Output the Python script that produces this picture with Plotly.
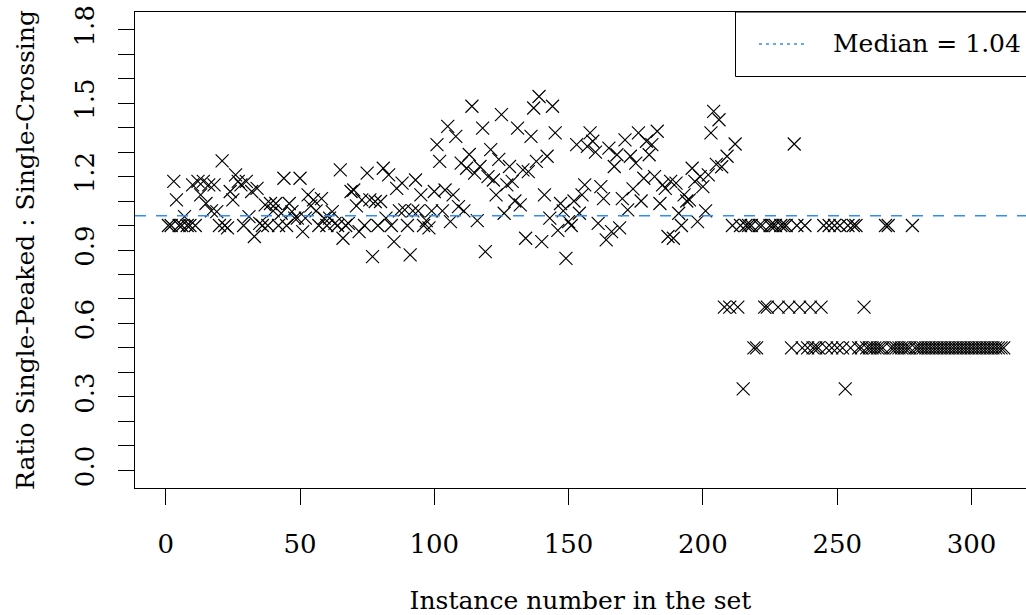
import plotly.graph_objects as go

# ---------------- data ----------------
ratios_001_050 = [1.00, 1.00, 1.18, 1.105, 1.00, 1.00, 1.036, 1.00, 1.00, 1.166,
                  1.00, 1.18, 1.125, 1.18, 1.09, 1.166, 1.06, 1.166, 1.057, 1.00,
                  1.264, 1.00, 0.99, 1.139, 1.105, 1.207, 1.18, 1.166, 1.00, 1.18,
                  1.036, 1.139, 0.955, 1.152, 1.009, 1.00, 1.084, 1.00, 1.09, 1.06,
                  1.09, 1.00, 1.05, 1.193, 1.00, 1.09, 1.057, 1.03, 1.03, 1.193]
ratios_051_100 = [0.975, 1.03, 1.125, 1.08, 1.105, 1.06, 1.00, 1.11, 1.03, 1.00,
                  1.03, 1.057, 1.009, 1.00, 1.227, 0.948, 1.00, 1.009, 1.139, 1.145,
                  1.08, 0.975, 1.105, 1.00, 1.214, 1.105, 0.873, 1.098, 1.00, 1.098,
                  1.234, 1.03, 1.207, 1.00, 0.934, 1.152, 1.06, 1.173, 1.064, 1.00,
                  0.88, 1.06, 1.186, 1.06, 1.125, 1.00, 1.02, 0.99, 1.06, 1.139]
ratios_101_150 = [1.33, 1.262, 1.06, 1.145, 1.405, 1.016, 1.125, 1.364, 1.077, 1.255,
                  1.06, 1.234, 1.29, 1.487, 1.214, 1.02, 1.241, 1.398, 0.893, 1.20,
                  1.31, 1.186, 1.125, 1.27, 1.453, 1.05, 1.166, 1.241, 1.18, 1.10,
                  1.398, 1.084, 1.227, 0.948, 1.22, 1.364, 1.48, 1.262, 1.527, 0.934,
                  1.125, 1.283, 1.03, 1.487, 1.378, 0.98, 1.09, 1.06, 0.866, 1.016]
ratios_151_200 = [1.00, 1.10, 1.33, 1.05, 1.125, 1.166, 1.323, 1.378, 1.344, 1.30,
                  1.009, 1.159, 1.11, 0.941, 1.316, 0.975, 1.241, 1.289, 0.99, 1.11,
                  1.35, 1.064, 1.283, 1.15, 1.255, 1.378, 1.10, 1.193, 1.344, 1.289,
                  1.33, 1.20, 1.385, 1.09, 1.166, 1.152, 0.955, 1.18, 0.948, 1.173,
                  1.05, 1.00, 1.125, 1.10, 1.105, 1.234, 1.18, 1.016, 1.20, 1.159]
ratios_201_250 = [1.06, 1.207, 1.378, 1.466, 1.25, 1.432, 1.24, 0.667, 1.283, 0.667,
                  1.00, 1.333, 0.667, 1.00, 0.333, 1.00, 1.00, 1.00, 0.50, 0.50,
                  1.00, 1.00, 0.667, 0.667, 1.00, 1.00, 1.00, 0.667, 1.00, 1.00,
                  1.00, 0.667, 0.50, 1.333, 1.00, 0.667, 0.50, 1.00, 0.50, 0.667,
                  0.50, 0.50, 0.50, 0.667, 1.00, 0.50, 1.00, 0.50, 1.00, 0.50]
ratios_251_312 = [1.00, 0.50, 0.333, 1.00, 0.50, 1.00, 1.00, 0.50, 0.50, 0.667,
                  0.50, 0.50, 0.50, 0.50, 0.50, 0.50, 0.50, 1.00, 1.00, 0.50,
                  0.50, 0.50, 0.50, 0.50, 0.50, 0.50, 0.50, 1.00, 0.50, 0.50,
                  0.50, 0.50, 0.50, 0.50, 0.50, 0.50, 0.50, 0.50, 0.50, 0.50,
                  0.50, 0.50, 0.50, 0.50, 0.50, 0.50, 0.50, 0.50, 0.50, 0.50,
                  0.50, 0.50, 0.50, 0.50, 0.50, 0.50, 0.50, 0.50, 0.50, 0.50,
                  0.50, 0.50]

ratios = (ratios_001_050 + ratios_051_100 + ratios_101_150 +
          ratios_151_200 + ratios_201_250 + ratios_251_312)
instance_numbers = list(range(1, len(ratios) + 1))

median_value = 1.04
median_label = "Median = 1.04"

x_tick_values = [0, 50, 100, 150, 200, 250, 300]
y_tick_values = [round(0.1 * k, 1) for k in range(19)]
y_tick_labels = ["0.0", "", "", "0.3", "", "", "0.6", "", "", "0.9", "", "",
                 "1.2", "", "", "1.5", "", "", "1.8"]

x_title = "Instance number in the set"
y_title = "Ratio Single-Peaked : Single-Crossing"

# ---------------- figure ----------------
FONT = "DejaVu Serif"
W, H = 1026, 615
ML, MR, MT, MB = 135, 0, 12, 127
MEDIAN_COLOR = "#2f8ff5"

fig = go.Figure()
fig.add_trace(go.Scatter(
    x=instance_numbers, y=ratios, mode="markers",
    marker=dict(symbol="x-thin", size=13, color="black",
                line=dict(color="black", width=1.15)),
    showlegend=False, hoverinfo="x+y"))

# median line (abline)
fig.add_shape(type="line", xref="paper", yref="y", x0=0, x1=1,
              y0=median_value, y1=median_value,
              line=dict(color=MEDIAN_COLOR, width=1.4, dash="11px,10px"))

# legend box (top right, like R legend("topright"))
plot_w = W - ML - MR
plot_h = H - MT - MB
def px_x(p):
    return (p - ML) / plot_w
def px_y(p):
    return (H - MB - p) / plot_h

fig.add_shape(type="rect", xref="paper", yref="paper",
              x0=px_x(735.5), x1=1.05, y0=px_y(76.5), y1=1.0,
              line=dict(color="black", width=1), fillcolor="white", layer="above")
fig.add_shape(type="line", xref="paper", yref="paper",
              x0=px_x(759), x1=px_x(806), y0=px_y(44), y1=px_y(44),
              line=dict(color=MEDIAN_COLOR, width=1.4, dash="3px,4px"), layer="above")
fig.add_annotation(xref="paper", yref="paper", x=px_x(831), y=px_y(44),
                   xanchor="left", yanchor="middle", showarrow=False,
                   text=median_label, font=dict(family=FONT, size=25, color="black"))

fig.update_layout(
    width=W, height=H,
    margin=dict(l=ML, r=MR, t=MT, b=MB, pad=0, autoexpand=False),
    paper_bgcolor="white", plot_bgcolor="white",
    font=dict(family=FONT, color="black"),
    showlegend=False,
    xaxis=dict(range=[-11.44, 320.3], tickmode="array", tickvals=x_tick_values,
               ticks="outside", ticklen=16, tickwidth=1, tickcolor="black",
               showline=True, linecolor="black", linewidth=1, mirror=True,
               showgrid=False, zeroline=False, automargin=False,
               tickfont=dict(family=FONT, size=26),
               ticklabelstandoff=17,
               title=dict(text=x_title, font=dict(family=FONT, size=25), standoff=38)),
    yaxis=dict(range=[-0.072, 1.872], tickmode="array", tickvals=y_tick_values,
               ticktext=y_tick_labels, tickangle=-90,
               ticks="outside", ticklen=16, tickwidth=1, tickcolor="black",
               showline=True, linecolor="black", linewidth=1, mirror=False,
               showgrid=False, zeroline=False, automargin=False,
               tickfont=dict(family=FONT, size=26),
               ticklabelstandoff=14,
               title=dict(text=y_title, font=dict(family=FONT, size=25), standoff=27)),
)

fig.write_html("out.html")
